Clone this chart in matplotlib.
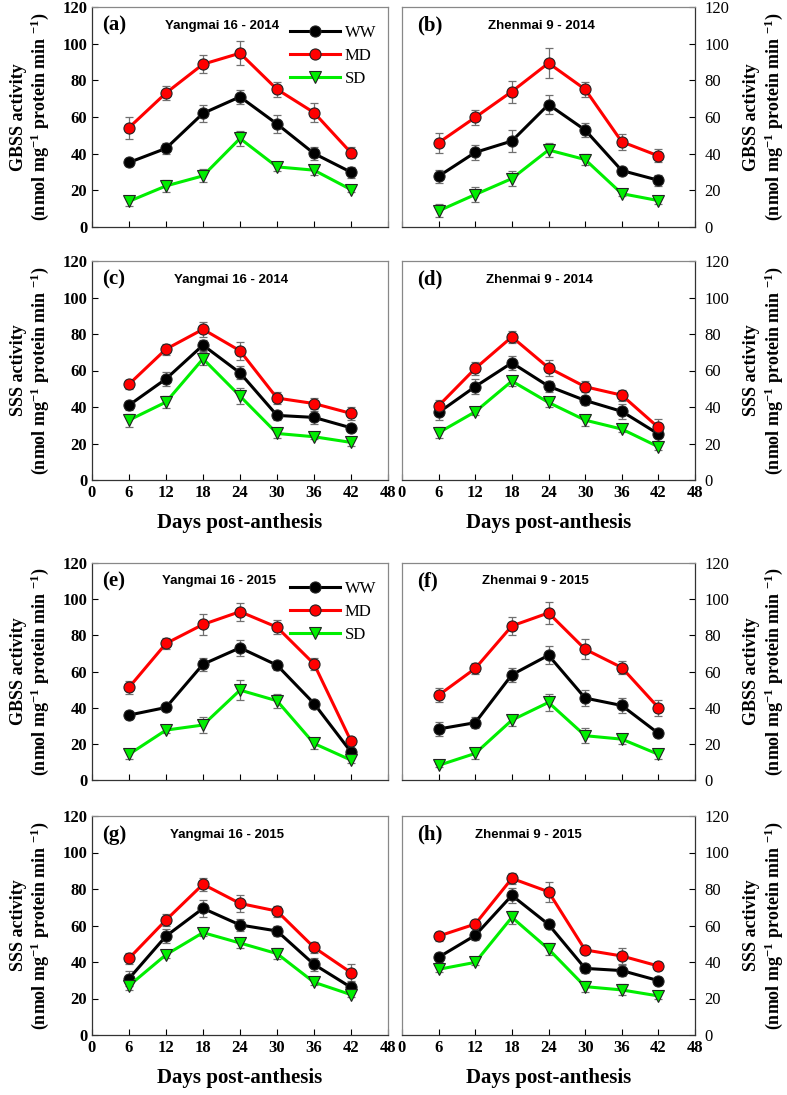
import matplotlib.pyplot as plt

plt.rcParams['font.family'] = ['Liberation Serif', 'DejaVu Serif']
plt.rcParams['mathtext.fontset'] = 'custom'
plt.rcParams['mathtext.rm'] = 'Liberation Serif:bold'
plt.rcParams['mathtext.bf'] = 'Liberation Serif:bold'
plt.rcParams['mathtext.it'] = 'Liberation Serif:bold'

days = [6, 12, 18, 24, 30, 36, 42]
labels = ['WW', 'MD', 'SD']
panel_tags = ['(a)', '(b)', '(c)', '(d)', '(e)', '(f)', '(g)', '(h)']
titles = ['Yangmai 16 - 2014', 'Zhenmai 9 - 2014', 'Yangmai 16 - 2014', 'Zhenmai 9 - 2014',
          'Yangmai 16 - 2015', 'Zhenmai 9 - 2015', 'Yangmai 16 - 2015', 'Zhenmai 9 - 2015']

# (a) GBSS Yangmai 16 2014
ww_a = [35.2, 42.9, 62.0, 71.0, 56.2, 40.1, 29.9]
md_a = [54.2, 73.1, 88.8, 94.8, 75.1, 62.4, 40.5]
sd_a = [14.0, 22.4, 27.9, 48.3, 32.8, 31.0, 20.4]
ww_a_se = [2, 3, 4.5, 4, 5, 3.5, 3]
md_a_se = [6, 4, 5, 6.5, 4, 5, 3]
sd_a_se = [2.5, 3.5, 3.5, 4, 2.5, 2.5, 1.5]

# (b) GBSS Zhenmai 9 2014
ww_b = [27.7, 40.7, 46.9, 66.8, 52.9, 30.8, 25.5]
md_b = [46.0, 59.8, 73.9, 89.4, 75.1, 46.5, 38.8]
sd_b = [8.8, 17.7, 26.4, 42.0, 36.8, 18.2, 14.4]
ww_b_se = [3.5, 4, 6, 5, 4, 2, 3]
md_b_se = [5.5, 4, 6, 8, 4, 4.5, 3.5]
sd_b_se = [3.5, 4, 4, 4, 3, 1.5, 2]

# (c) SSS Yangmai 16 2014
ww_c = [41.0, 55.4, 73.9, 58.7, 35.4, 34.3, 28.6]
md_c = [52.5, 71.7, 82.6, 70.8, 44.9, 41.9, 36.5]
sd_c = [32.8, 42.7, 66.4, 46.0, 25.5, 23.7, 20.6]
ww_c_se = [2.5, 4, 3, 3.5, 2.5, 3.5, 2]
md_c_se = [2.5, 3, 4, 5, 3.5, 3, 3.5]
sd_c_se = [3.5, 3.5, 3.5, 4.5, 2.5, 1.5, 2]

# (d) SSS Zhenmai 9 2014
ww_d = [37.0, 51.2, 64.2, 51.4, 43.6, 37.6, 25.2]
md_d = [40.7, 61.1, 78.4, 61.5, 51.1, 46.5, 28.8]
sd_d = [25.9, 37.4, 54.2, 42.5, 32.8, 27.9, 18.2]
ww_d_se = [4, 4, 4, 3, 2.5, 4, 4]
md_d_se = [3, 3.5, 3.5, 4.5, 3, 3, 4.5]
sd_d_se = [3, 2, 2.5, 2.5, 3, 1.5, 1.5]

# (e) GBSS Yangmai 16 2015
ww_e = [35.9, 40.1, 64.0, 73.1, 63.5, 42.3, 15.5]
md_e = [51.2, 75.5, 86.0, 93.1, 84.5, 64.2, 21.5]
sd_e = [14.2, 27.6, 30.4, 49.7, 43.8, 20.2, 11.0]
ww_e_se = [2, 2, 3.5, 4.5, 2.5, 1.5, 2]
md_e_se = [3.5, 3, 6, 5, 4, 3.5, 2]
sd_e_se = [2.5, 1.5, 4.5, 5.5, 4, 3, 1.5]

# (f) GBSS Zhenmai 9 2015
ww_f = [28.2, 31.7, 58.2, 69.0, 45.3, 41.2, 25.8]
md_f = [46.9, 61.7, 85.2, 92.4, 72.3, 62.2, 40.0]
sd_f = [8.1, 14.7, 33.1, 42.9, 24.5, 22.6, 14.2]
ww_f_se = [4, 3, 4, 5, 4.5, 4, 2]
md_f_se = [4, 3, 5, 6, 5.5, 3.5, 4.5]
sd_f_se = [1, 3, 3, 4.5, 4, 2.5, 2.5]

# (g) SSS Yangmai 16 2015
ww_g = [30.9, 54.2, 69.4, 60.3, 57.0, 38.7, 26.1]
md_g = [42.0, 63.0, 82.6, 72.1, 67.9, 48.0, 34.2]
sd_g = [27.0, 44.0, 56.1, 50.4, 44.6, 28.9, 22.1]
ww_g_se = [4, 4, 4.5, 3.5, 2.5, 3.5, 3]
md_g_se = [3, 3.5, 3.5, 4.5, 3, 3, 4.5]
sd_g_se = [2.5, 2, 2, 2.5, 3, 1.5, 1.5]

# (h) SSS Zhenmai 9 2015
ww_h = [42.6, 54.6, 76.5, 60.6, 36.5, 35.3, 29.8]
md_h = [54.2, 60.8, 85.8, 78.5, 46.6, 43.3, 37.8]
sd_h = [36.0, 39.8, 64.5, 47.1, 26.5, 24.7, 21.4]
ww_h_se = [2.5, 2.5, 4, 2, 2.5, 3, 2]
md_h_se = [2.5, 2, 3, 5.5, 2, 4.5, 2]
sd_h_se = [1.5, 1.5, 3.5, 3.5, 3, 3, 1.5]

series = [
    (ww_a, md_a, sd_a, ww_a_se, md_a_se, sd_a_se),
    (ww_b, md_b, sd_b, ww_b_se, md_b_se, sd_b_se),
    (ww_c, md_c, sd_c, ww_c_se, md_c_se, sd_c_se),
    (ww_d, md_d, sd_d, ww_d_se, md_d_se, sd_d_se),
    (ww_e, md_e, sd_e, ww_e_se, md_e_se, sd_e_se),
    (ww_f, md_f, sd_f, ww_f_se, md_f_se, sd_f_se),
    (ww_g, md_g, sd_g, ww_g_se, md_g_se, sd_g_se),
    (ww_h, md_h, sd_h, ww_h_se, md_h_se, sd_h_se),
]

ylabel_gbss = 'GBSS activity\n(nmol mg$^{-1}$ protein min $^{-1}$)'
ylabel_sss = 'SSS activity\n(nmol mg$^{-1}$ protein min $^{-1}$)'

colors = ['black', '#ff0000', '#00ee00']
markers = ['o', 'o', 'v']

fig = plt.figure(figsize=(7.87, 10.95), dpi=100)

W, H = 787, 1095
cols = [(92, 388), (402, 695)]
rows = [(7, 227), (261, 480), (563, 780), (816, 1035)]
title_x = [0.44, 0.475, 0.47, 0.47, 0.43, 0.455, 0.455, 0.43]

for i in range(8):
    r, c = divmod(i, 2)
    x0, x1 = cols[c]
    y0, y1 = rows[r]
    ax = fig.add_axes([x0 / W, 1 - y1 / H, (x1 - x0) / W, (y1 - y0) / H])
    data = series[i]
    for k in range(3):
        ax.errorbar(days, data[k], yerr=data[k + 3], fmt='none', ecolor='#707070',
                    elinewidth=0.9, capsize=3, capthick=0.9, zorder=2)
        ax.plot(days, data[k], color=colors[k], lw=2.2, marker=markers[k],
                markersize=8 if k < 2 else 8.5, markerfacecolor=colors[k],
                markeredgecolor='#222222', markeredgewidth=0.8, zorder=3 + k,
                label=labels[k])

    ax.set_xlim(0, 48)
    ax.set_ylim(0, 120)
    ax.set_xticks(range(0, 49, 6))
    ax.set_yticks(range(0, 121, 20))
    ax.tick_params(direction='in', length=4, width=0.8, labelsize=12, colors='black')
    for lab in ax.get_xticklabels() + ax.get_yticklabels():
        lab.set_fontweight('bold')
    for s in ax.spines.values():
        s.set_color('#888888')
        s.set_linewidth(0.9)
    ax.spines['bottom'].set_color('#333333')

    if r % 2 == 0:
        ax.tick_params(axis='x', labelbottom=False)
    else:
        ax.set_xlabel('Days post-anthesis', fontsize=15, fontweight='bold', labelpad=9)

    ylab = ylabel_gbss if r % 2 == 0 else ylabel_sss
    if c == 0:
        ax.spines['left'].set_color('#333333')
        ax.set_ylabel(ylab, fontsize=13, fontweight='bold', labelpad=8, linespacing=1.1)
    else:
        ax.spines['right'].set_color('#333333')
        ax.yaxis.tick_right()
        ax.yaxis.set_label_position('right')
        ax.tick_params(axis='y', direction='in', length=4, pad=7)
        ax.set_ylabel(ylab, fontsize=13, fontweight='bold', labelpad=10, linespacing=1.1)

    ax.text(0.035 if c == 0 else 0.05, 0.915, panel_tags[i], transform=ax.transAxes,
            fontsize=15, fontweight='bold', va='center', ha='left')
    ax.text(title_x[i], 0.915, titles[i], transform=ax.transAxes, fontsize=9.5,
            fontweight='bold', family=['Liberation Sans', 'DejaVu Sans'],
            va='center', ha='center')

    if i in (0, 4):
        ax.legend(loc='upper right', bbox_to_anchor=(1.0, 0.97), frameon=False,
                  fontsize=12, handlelength=3.0, handletextpad=0.3,
                  labelspacing=0.4, borderaxespad=0.3)

fig.savefig('out.png', dpi=100)
